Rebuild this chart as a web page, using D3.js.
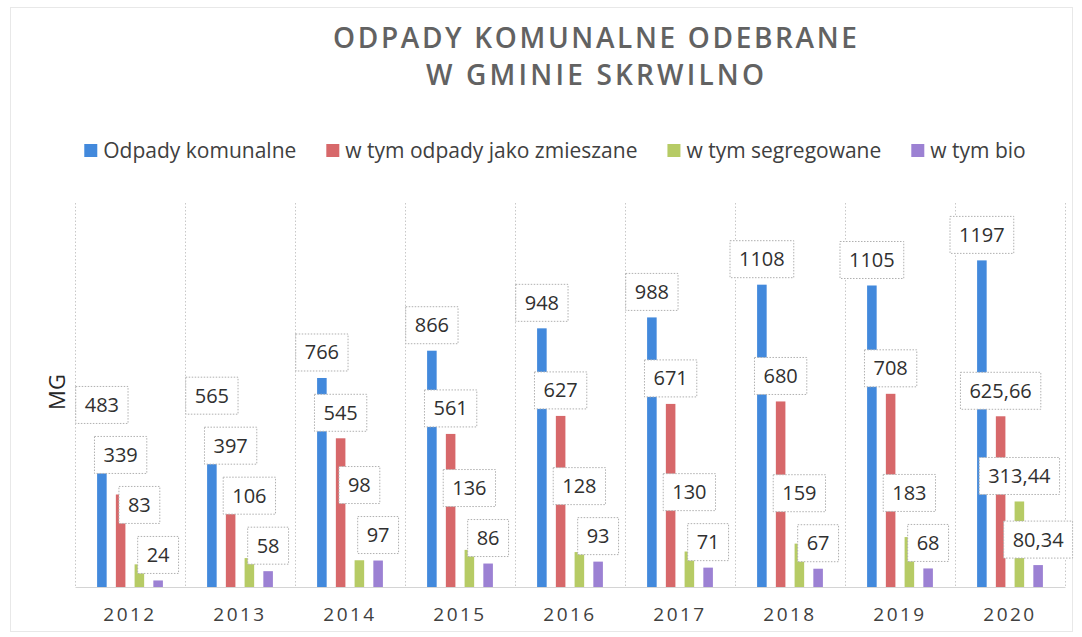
<!DOCTYPE html>
<html>
<head>
<meta charset="utf-8">
<script src="https://cdn.jsdelivr.net/npm/d3@7"></script>
<style>
  body { margin: 0; background: #fff; }
  svg { display: block; font-family: "Open Sans", sans-serif; }
</style>
</head>
<body>
<svg id="chart" width="1082" height="637"></svg>
<script>
// Odpady komunalne odebrane w gminie Skrwilno, 2012-2020 (Mg)
const years = ['2012','2013','2014','2015','2016','2017','2018','2019','2020'];
const seriesNames = ['Odpady komunalne','w tym odpady jako zmieszane','w tym segregowane','w tym bio'];
const komunalne  = [483, 565, 766, 866, 948, 988, 1108, 1105, 1197];
const zmieszane  = [339, 397, 545, 561, 627, 671, 680, 708, 625.66];
const segregowane = [83, 106, 98, 136, 128, 130, 159, 183, 313.44];
const bio        = [24, 58, 97, 86, 93, 71, 67, 68, 80.34];
const titleLines = ['ODPADY KOMUNALNE ODEBRANE', 'W GMINIE SKRWILNO'];
const yTitle = 'MG';
const yMax = 1400;

const colors = ['#4289dc', '#d7686a', '#b6cb65', '#9c81d3'];
const seriesValues = [komunalne, zmieszane, segregowane, bio];

const svg = d3.select('#chart');
const W = 1082, H = 637;
const M = {left: 75, right: 17, top: 203, bottom: 50};
const plotR = W - M.right, plotB = H - M.bottom;

// faint outer frame of the chart area
svg.append('rect').attr('x',10.5).attr('y',7.5).attr('width',1062).attr('height',624)
  .attr('fill','none').attr('stroke','#e8e8e8');

// title
svg.append('g').selectAll('text').data(titleLines).join('text')
  .attr('x', 595).attr('y', (d,i) => 48 + i*37)
  .attr('text-anchor','middle')
  .attr('textLength', (d,i) => i === 0 ? 524 : 338)
  .attr('lengthAdjust','spacing')
  .style('font-size','28px').style('font-weight','600').style('fill','#626262')
  .text(d => d);

// legend
const legend = svg.append('g');
const items = legend.selectAll('g').data(seriesNames).join('g');
items.append('rect').attr('width',13).attr('height',13).attr('y',-14)
  .attr('fill',(d,i)=>colors[i]);
items.append('text').attr('x',19).attr('y',0)
  .style('font-size','21px').style('fill','#404040').text(d=>d);
let lx = 0;
items.each(function(){
  d3.select(this).attr('transform',`translate(${lx},158)`);
  lx += this.getBBox().width + 30;
});
const legendW = lx - 30;
legend.attr('transform',`translate(${555 - legendW/2},0)`);

// scales
const x0 = d3.scaleBand().domain(years).range([M.left, plotR]);
const x1 = d3.scaleBand().domain(d3.range(seriesNames.length))
  .range([-32.9, 32.9]).paddingInner(0.49).paddingOuter(0);
const y = d3.scaleLinear().domain([0, yMax]).range([plotB, 205]);

// category separators (dotted)
const bounds = years.map(d => x0(d)).concat([plotR]);
svg.append('g').selectAll('line').data(bounds).join('line')
  .attr('x1',d=>d+0.5).attr('x2',d=>d+0.5)
  .attr('y1',M.top).attr('y2',plotB)
  .attr('stroke','#c8c8c8').attr('stroke-dasharray','1.5,2');

// x axis
const xAxis = svg.append('g').attr('transform',`translate(0,${plotB})`)
  .call(d3.axisBottom(x0).tickSize(0).tickPadding(0));
xAxis.select('.domain').attr('stroke','#d4d4d4');
xAxis.selectAll('text').attr('dy',null).attr('y',34)
  .style('font-size','19px').style('fill','#404040')
  .style('letter-spacing','2.5px').style('font-family','"Open Sans", sans-serif');

// y title
svg.append('text').attr('transform','translate(65,392) rotate(-90)')
  .attr('text-anchor','middle')
  .style('font-size','22px').style('fill','#262626').text(yTitle);

// bars
const rows = years.map((yr,j) => seriesValues.map((vals,i) => ({yr, i, v: vals[j]})));
const groups = svg.append('g').selectAll('g').data(rows).join('g')
  .attr('transform', d => `translate(${x0(d[0].yr) + x0.bandwidth()/2},0)`);
groups.selectAll('rect').data(d=>d).join('rect')
  .attr('x', d => x1(d.i)).attr('width', x1.bandwidth())
  .attr('y', d => y(d.v)).attr('height', d => plotB - y(d.v))
  .attr('fill', d => colors[d.i]);

// data labels: boxed, placed over the bar, nudged up when they collide
const fmt = v => String(v).replace('.', ',');
const labelLayer = svg.append('g');
const boxH = 37, gap = 13;
rows.forEach(row => {
  const cx = x0(row[0].yr) + x0.bandwidth()/2;
  const placed = [];
  for (let k = row.length - 1; k >= 0; k--) {
    const d = row[k];
    const g = labelLayer.append('g');
    const t = g.append('text').attr('text-anchor','middle')
      .style('font-size','20px').style('fill','#303030').text(fmt(d.v));
    const bw = t.node().getComputedTextLength() + 18;
    const mx = cx + x1(d.i) + x1.bandwidth()/2;
    let bottom = y(d.v) - 7;
    let moved = true;
    while (moved) {
      moved = false;
      for (const p of placed) {
        const hOver = Math.abs(p.x - mx) < (p.w + bw)/2;
        const vOver = bottom > p.top - gap && bottom - boxH < p.bottom + gap;
        if (hOver && vOver) { bottom = p.top - gap; moved = true; }
      }
    }
    placed.push({x: mx, w: bw, top: bottom - boxH, bottom});
    g.insert('rect','text')
      .attr('x', mx - bw/2).attr('y', bottom - boxH)
      .attr('width', bw).attr('height', boxH)
      .attr('fill','#fff').attr('stroke','#b0b0b0').attr('stroke-dasharray','1.5,1.5');
    t.attr('x', mx).attr('y', bottom - boxH/2 + 7);
  }
});
</script>
</body>
</html>
